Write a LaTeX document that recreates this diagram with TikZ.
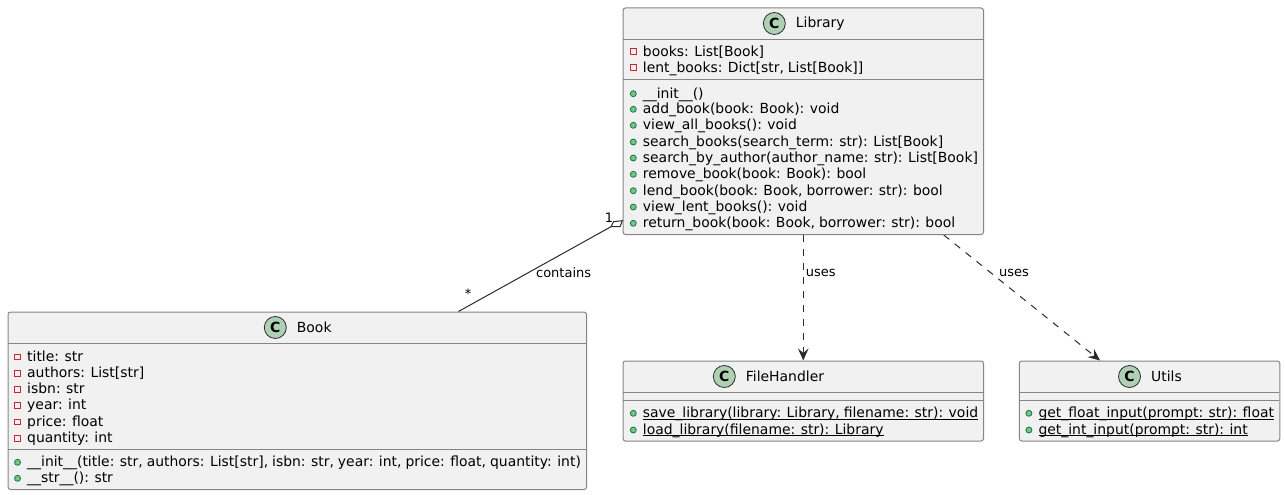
\documentclass[tikz,border=0pt]{standalone}
\usepackage{fontspec}
\setmainfont{DejaVu Sans}[WordSpace=0.9]
\usetikzlibrary{positioning, arrows.meta}
\definecolor{boxfill}{HTML}{F1F1F1}
\definecolor{boxline}{HTML}{858585}
\definecolor{iconfill}{HTML}{ADD1B2}
\definecolor{privred}{HTML}{C82930}
\definecolor{pubfill}{HTML}{84BE84}
\definecolor{publine}{HTML}{038048}
\definecolor{edgeline}{HTML}{2B2B2B}
\newcommand{\staticname}[1]{\setbox0\hbox{#1}\rlap{\rule[-1.7pt]{\wd0}{1pt}}\box0}
\tikzset{
classbox/.style={draw=boxline, fill=boxfill, line width=1pt, rounded corners=2.5pt, anchor=north west, inner sep=0pt},
sep/.style={draw=boxline, line width=1pt},
classicon/.style={circle, draw=edgeline, fill=iconfill, line width=.8pt, minimum size=22pt, inner sep=0pt, font=\fontsize{14}{14}\selectfont\bfseries},
classname/.style={inner sep=0pt, font=\fontsize{13.93}{16}\selectfont, text height=11pt, text depth=2pt},
member/.style={anchor=west, inner sep=0pt, font=\fontsize{13.93}{16}\selectfont, text height=11pt, text depth=2pt},
privicon/.style={draw=privred, fill=boxfill, line width=.9pt, minimum size=5.5pt, inner sep=0pt, anchor=center, xshift=-9.4pt},
pubicon/.style={circle, draw=publine, fill=pubfill, line width=.8pt, minimum size=6pt, inner sep=0pt, anchor=center, xshift=-9.4pt},
attr/.style={member, label={[privicon]left:{}}}, % private field, red square in front
meth/.style={member, label={[pubicon]left:{}}}, % public method, green dot in front
connector/.style={draw=edgeline, line width=1pt},
uses/.style={connector, dash pattern=on 7pt off 7pt, -{Stealth[length=12pt, width=10.5pt, inset=4.5pt]}},
edgetext/.style={inner sep=0pt, font=\fontsize{13}{15}\selectfont},
}

\begin{document}
\begin{tikzpicture}[x=1pt, y=-1pt]
    \useasboundingbox (0,0) rectangle (1285,495);

    % class boxes
    \node[classbox, minimum width=360.5pt, minimum height=226.5pt] (library) at (622.5,7.5) {};
    \node[classbox, minimum width=578.5pt, minimum height=177.5pt] (book) at (7.5,311.5) {};
    \node[classbox, minimum width=360.5pt, minimum height=80pt] (filehandler) at (622.5,360.5) {};
    \node[classbox, minimum width=260.5pt, minimum height=80pt] (utils) at (1018.8,360.5) {};

    % compartment lines
    \draw[sep] (622.5,39.5) -- (983,39.5);
    \draw[sep] (622.5,79.7) -- (983,79.7);
    \draw[sep] (7.5,343.5) -- (586,343.5);
    \draw[sep] (7.5,449.5) -- (586,449.5);
    \draw[sep] (622.5,392.5) -- (983,392.5);
    \draw[sep] (622.5,400.5) -- (983,400.5);
    \draw[sep] (1018.8,392.5) -- (1279.3,392.5);
    \draw[sep] (1018.8,400.5) -- (1279.3,400.5);

    % headers
    \node[classicon] (libraryC) at (774.3,23.5) {C};
    \node[classname, right=10pt of libraryC] (libraryname) {Library};
    \node[classicon] (bookC) at (275.3,327.5) {C};
    \node[classname, right=10pt of bookC] (bookname) {Book};
    \node[classicon] (filehandlerC) at (724.3,376.5) {C};
    \node[classname, right=10pt of filehandlerC] (filehandlername) {FileHandler};
    \node[classicon] (utilsC) at (1129.5,376.5) {C};
    \node[classname, right=10pt of utilsC] (utilsname) {Utils};

    % Library
    \node[attr] (lf1) at (642.7,51.7) {books: List[Book]};
    \node[attr] (lf2) at (642.7,67.7) {lent\_books: Dict[str, List[Book]]};
    \node[meth] (lm1) at (642.7,93.7) {\_\_init\_\_()};
    \node[meth] (lm2) at (642.7,109.3) {add\_book(book: Book): void};
    \node[meth] (lm3) at (642.7,125.3) {view\_all\_books(): void};
    \node[meth] (lm4) at (642.7,142) {search\_books(search\_term: str): List[Book]};
    \node[meth] (lm5) at (642.7,158) {search\_by\_author(author\_name: str): List[Book]};
    \node[meth] (lm6) at (642.7,174.3) {remove\_book(book: Book): bool};
    \node[meth] (lm7) at (642.7,190.7) {lend\_book(book: Book, borrower: str): bool};
    \node[meth] (lm8) at (642.7,207) {view\_lent\_books(): void};
    \node[meth] (lm9) at (642.7,223.3) {return\_book(book: Book, borrower: str): bool};

    % Book
    \node[attr] (bf1) at (27,356.7) {title: str};
    \node[attr] (bf2) at (27,373.3) {authors: List[str]};
    \node[attr] (bf3) at (27,389.3) {isbn: str};
    \node[attr] (bf4) at (27,405.3) {year: int};
    \node[attr] (bf5) at (27,422) {price: float};
    \node[attr] (bf6) at (27,438.3) {quantity: int};
    \node[meth] (bm1) at (27,462.3) {\_\_init\_\_(title: str, authors: List[str], isbn: str, year: int, price: float, quantity: int)};
    \node[meth] (bm2) at (27,478.3) {\_\_str\_\_(): str};

    % FileHandler
    \node[meth] (fm1) at (642.7,413.3) {\staticname{save\_library(library: Library, filename: str): void}};
    \node[meth] (fm2) at (642.7,430) {\staticname{load\_library(filename: str): Library}};

    % Utils
    \node[meth] (um1) at (1038.3,413.3) {\staticname{get\_float\_input(prompt: str): float}};
    \node[meth] (um2) at (1038.3,430) {\staticname{get\_int\_input(prompt: str): int}};

    % connectors
    \coordinate (aggtip) at (622.3,220.7);
    \coordinate (aggend) at (611,226.7);
    \draw[connector] ([xshift=161.2pt]book.north) -- node[edgetext, pos=.46, right=7pt] (containslabel) {contains} (aggend);
    \draw[connector, fill=white] (aggtip) -- (620,226.7) -- (aggend) -- (613.5,221.7) -- cycle;
    \node[edgetext] (one) at (609,218) {1};
    \node[edgetext] (many) at (468,294) {*};
    \draw[uses] (library.south) -- node[edgetext, pos=.3, right=2pt] (useslabelA) {uses} (filehandler.north);
    \draw[uses] ([xshift=140.5pt]library.south) -- node[edgetext, pos=.3, right=8pt] (useslabelB) {uses} ([xshift=-49.5pt]utils.north);
\end{tikzpicture}
\end{document}
